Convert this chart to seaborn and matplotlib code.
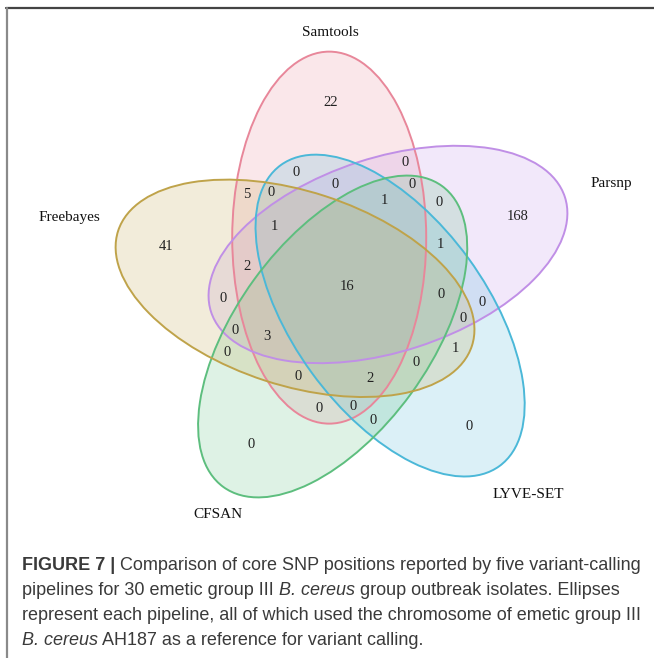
import numpy as np
import matplotlib
matplotlib.use("Agg")
import matplotlib.pyplot as plt
from matplotlib.patches import Ellipse
from matplotlib.lines import Line2D
import seaborn as sns

# pipelines, in the order they sit round the diagram (clockwise from the top)
pipelines = ["Samtools", "Parsnp", "LYVE-SET", "CFSAN", "Freebayes"]
codes = ["S", "P", "L", "C", "F"]
edge_colors = ["#e8879a", "#c08fe6", "#4bb8d8", "#5dbe7e", "#bfa34a"]

# core SNP counts per region, keyed by the pipelines that share them
regions = ["S", "P", "L", "C", "F",
           "SP", "SL", "SC", "SF", "PL", "PC", "PF", "LC", "LF", "CF",
           "SPL", "SPC", "SPF", "SLC", "SLF", "SCF", "PLC", "PLF", "PCF", "LCF",
           "SPLC", "SPLF", "SPCF", "SLCF", "PLCF",
           "SPLCF"]
counts = [22, 168, 0, 0, 41,
          0, 0, 0, 5, 0, 0, 0, 0, 1, 0,
          0, 0, 2, 0, 0, 0, 1, 0, 0, 0,
          1, 1, 3, 2, 0,
          16]

W, H = 654, 658
sns.set_theme(style="white")
plt.rcParams["font.family"] = ["Liberation Serif", "DejaVu Serif"]

fig = plt.figure(figsize=(W / 100, H / 100), dpi=100)
ax = fig.add_axes([0, 0, 1, 1])
ax.set_xlim(0, W)
ax.set_ylim(0, H)
ax.axis("off")

# ellipse layout: five equal ellipses turned by 72 degrees round a common centre
cx0, cy0 = 347, H - 286.5
ring = 52
semi_a, semi_b = 186, 97

geom = []
for k, col in enumerate(edge_colors):
    phi = np.radians(110 - 72 * k)
    theta = 90 - 72 * k
    centre = (cx0 + ring * np.cos(phi), cy0 + ring * np.sin(phi))
    geom.append((centre, np.radians(theta)))
    ax.add_patch(Ellipse(centre, 2 * semi_a, 2 * semi_b, angle=theta,
                         facecolor=col, alpha=0.2, edgecolor="none"))
for (centre, th), col in zip(geom, edge_colors):
    ax.add_patch(Ellipse(centre, 2 * semi_a, 2 * semi_b, angle=np.degrees(th),
                         fill=False, edgecolor=col, lw=1.4))

# find a label spot for each region: the grid point furthest from any outline
gx, gy = np.meshgrid(np.arange(80, 620, 1.0), np.arange(H - 560, H - 30, 1.0))
inside = []
margin = np.full(gx.shape, np.inf)
for (centre, th) in geom:
    dx, dy = gx - centre[0], gy - centre[1]
    u = dx * np.cos(th) + dy * np.sin(th)
    v = -dx * np.sin(th) + dy * np.cos(th)
    q = np.sqrt((u / semi_a) ** 2 + (v / semi_b) ** 2)
    grad = np.sqrt(u ** 2 / semi_a ** 4 + v ** 2 / semi_b ** 4) + 1e-9
    dist = np.abs(q - 1) * q / grad
    inside.append(q < 1)
    margin = np.minimum(margin, dist)

for reg, n in zip(regions, counts):
    mask = np.ones(gx.shape, bool)
    for code, ins in zip(codes, inside):
        mask &= ins if code in reg else ~ins
    score = np.where(mask, margin, -1)
    i = np.unravel_index(np.argmax(score), score.shape)
    ax.text(gx[i], gy[i], str(n), ha="center", va="center",
            fontsize=10.5, color="#222222")

# pipeline names (same order as pipelines)
name_pos = [(330, 32), (611, 183), (528, 495), (218, 515), (69, 218)]
for name, (x, y) in zip(pipelines, name_pos):
    ax.text(x, H - y, name, ha="center", va="center", fontsize=11, color="#111111")

# frame
fig.add_artist(Line2D([6 / W, 1], [1 - 8 / H, 1 - 8 / H], color="#444444", lw=1.6))
fig.add_artist(Line2D([7 / W, 7 / W], [0, 1 - 8 / H], color="#8a8a8a", lw=1.6))

# caption, written run by run so bold and italic parts sit inline
caption = [
    [("FIGURE 7 |", "bold", "normal"),
     (" Comparison of core SNP positions reported by five variant-calling", "normal", "normal")],
    [("pipelines for 30 emetic group III ", "normal", "normal"), ("B. cereus", "normal", "italic"),
     (" group outbreak isolates. Ellipses", "normal", "normal")],
    [("represent each pipeline, all of which used the chromosome of emetic group III", "normal", "normal")],
    [("B. cereus", "normal", "italic"), (" AH187 as a reference for variant calling.", "normal", "normal")],
]
renderer = fig.canvas.get_renderer()
for li, line in enumerate(caption):
    x = 22
    y = H - (570 + 25 * li)
    for s, weight, style in line:
        t = ax.text(x, y, s, ha="left", va="baseline", fontsize=13,
                    fontweight=weight, fontstyle=style, color="#3a3a3a",
                    family=["Liberation Sans", "DejaVu Sans"])
        x += t.get_window_extent(renderer).width

fig.savefig("out.png", dpi=100)
